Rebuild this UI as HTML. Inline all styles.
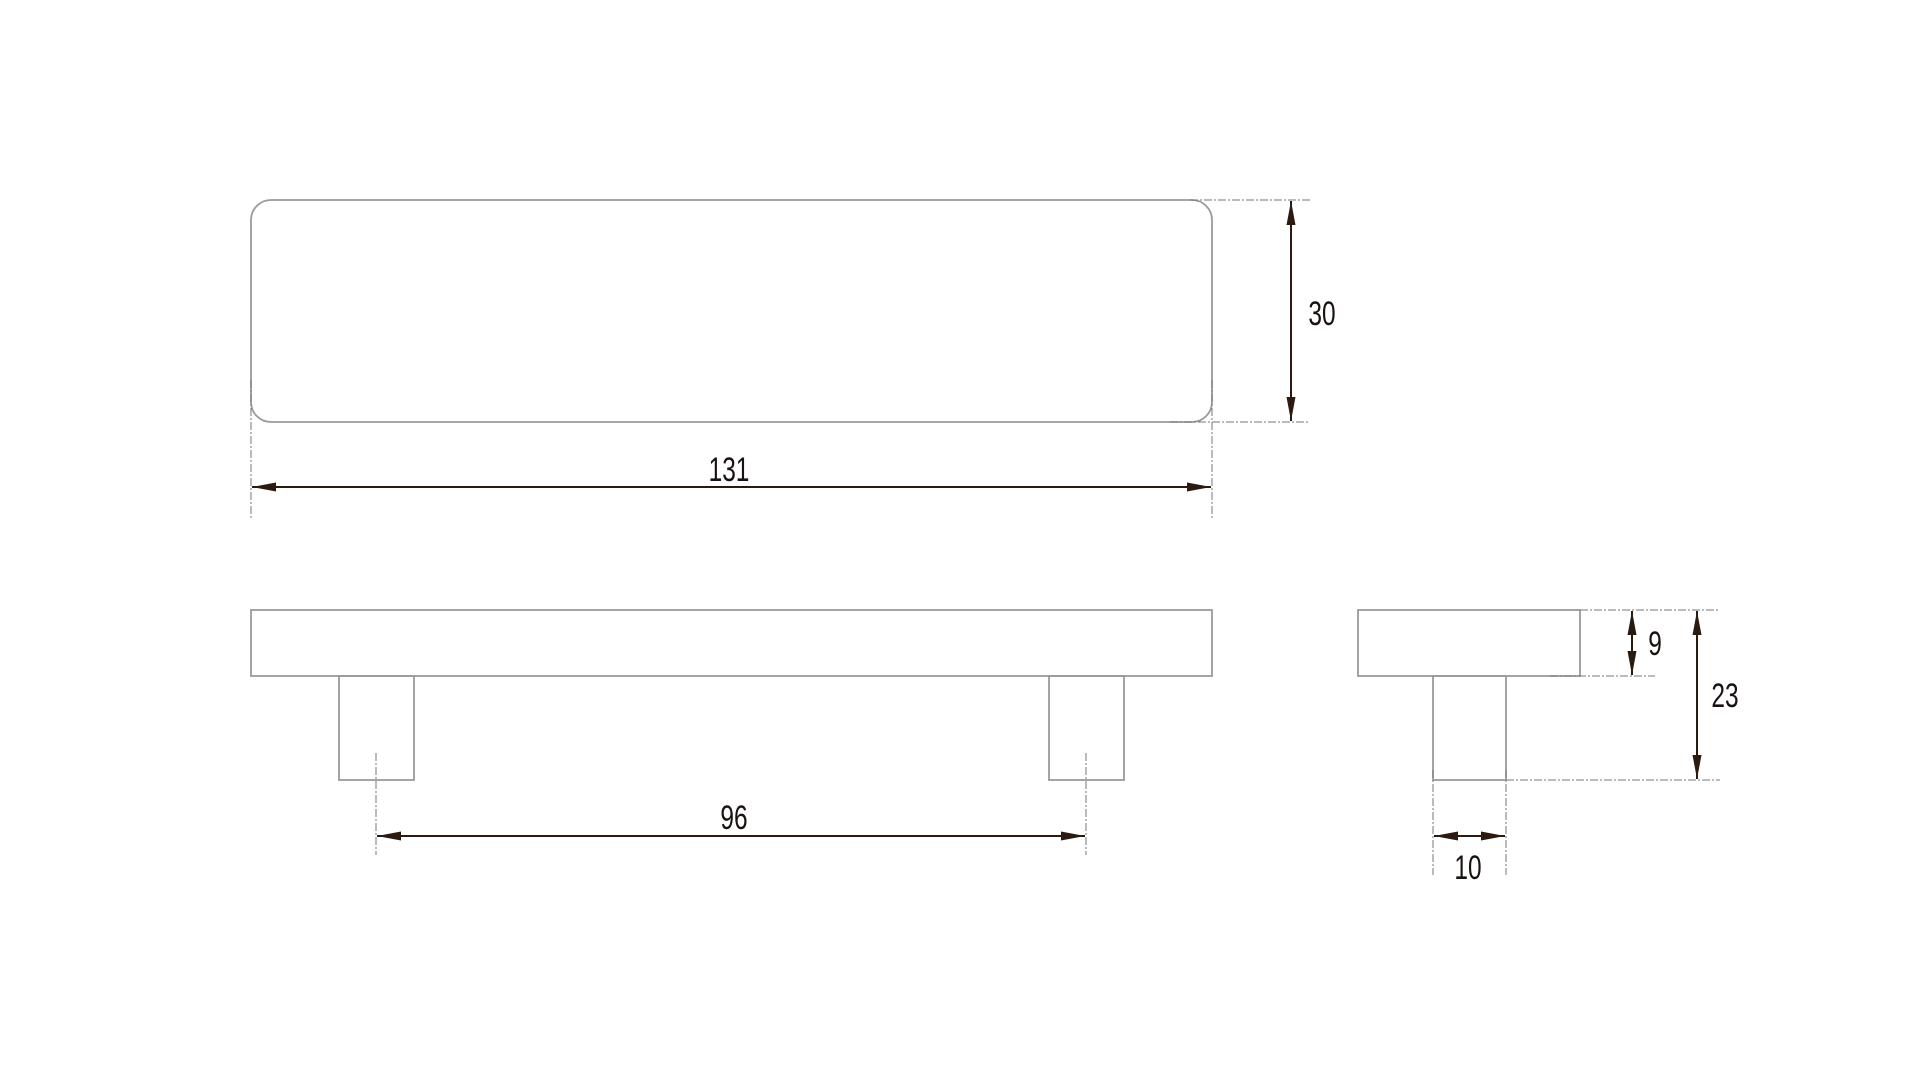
<!DOCTYPE html>
<html><head><style>html,body{margin:0;padding:0;background:#fff}</style></head><body>
<svg width="1920" height="1080" viewBox="0 0 1920 1080" xmlns="http://www.w3.org/2000/svg">
<defs>
<marker id="a" viewBox="0 0 10 10" preserveAspectRatio="none" refX="10" refY="5" markerWidth="24" markerHeight="9" markerUnits="userSpaceOnUse" orient="auto-start-reverse"><path d="M0,0 L10,5 L0,10 z" fill="#2a1a10"/></marker>
</defs>
<g fill="none" stroke="#9a9a9a" stroke-width="1.8">
<rect x="251" y="200" width="961" height="222" rx="20"/>
<rect x="251" y="610" width="961" height="66"/>
<rect x="339" y="676" width="75" height="104"/>
<rect x="1049" y="676" width="75" height="104"/>
<rect x="1358" y="610" width="222" height="66"/>
<rect x="1433" y="676" width="73" height="104"/>
</g>
<g stroke="#777" stroke-width="1" stroke-dasharray="8,2,2,2" fill="none">
<line x1="1190" y1="200" x2="1310" y2="200"/>
<line x1="1170" y1="422" x2="1310" y2="422"/>
<line x1="251" y1="380" x2="251" y2="520"/>
<line x1="1212" y1="380" x2="1212" y2="520"/>
<line x1="376" y1="753" x2="376" y2="855"/>
<line x1="1086" y1="753" x2="1086" y2="855"/>
<line x1="1580" y1="610" x2="1720" y2="610"/>
<line x1="1550" y1="676" x2="1655" y2="676"/>
<line x1="1506" y1="780" x2="1720" y2="780"/>
<line x1="1433" y1="770" x2="1433" y2="875"/>
<line x1="1506" y1="770" x2="1506" y2="875"/>
</g>
<g stroke="#2a1a10" stroke-width="2" marker-start="url(#a)" marker-end="url(#a)">
<line x1="1291" y1="201" x2="1291" y2="421"/>
<line x1="252" y1="487" x2="1211" y2="487"/>
<line x1="377" y1="836" x2="1085" y2="836"/>
<line x1="1632" y1="611" x2="1632" y2="675"/>
<line x1="1697" y1="611" x2="1697" y2="779"/>
<line x1="1434" y1="836" x2="1505" y2="836"/>
</g>
<g font-family="Liberation Sans, sans-serif" font-size="34" fill="#1a1210" text-anchor="middle">
<text transform="translate(1322,325) scale(0.72,1)">30</text>
<text transform="translate(729,481) scale(0.72,1)">131</text>
<text transform="translate(734,829) scale(0.72,1)">96</text>
<text transform="translate(1655,655) scale(0.72,1)">9</text>
<text transform="translate(1725,707) scale(0.72,1)">23</text>
<text transform="translate(1468,879) scale(0.72,1)">10</text>
</g>
</svg>
</body></html>
